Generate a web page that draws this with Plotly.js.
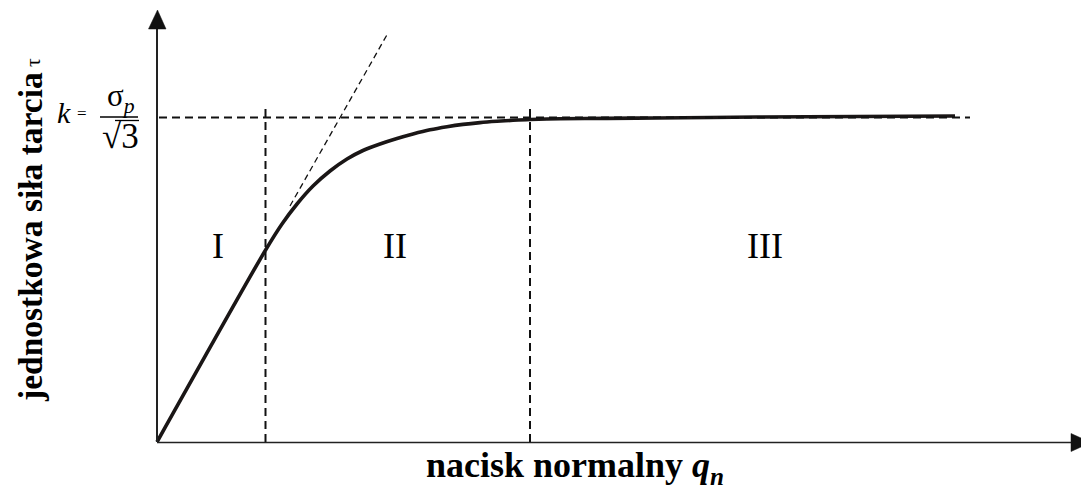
<!DOCTYPE html>
<html>
<head>
<meta charset="utf-8">
<script src="https://cdn.plot.ly/plotly-3.0.1.min.js"></script>
<style>html,body{margin:0;padding:0;background:#fff;}#chart{width:1081px;height:491px;}</style>
</head>
<body>
<div id="chart"></div>
<script>
// Curve: unit friction stress vs normal pressure
var curveX = [0, 108, 125, 140, 156, 173, 190, 206, 223, 240, 256, 273, 290, 306, 323, 340, 356, 373, 403, 450, 500, 600, 700, 798];
var curveY = [0, 191, 218, 238, 256, 271, 283, 291.5, 298, 303.5, 308, 312.2, 315.3, 317.6, 319.4, 320.7, 321.7, 322.5, 323.2, 323.6, 324, 325, 325.5, 326];
// k level (sigma_p / sqrt(3)) and its dashed guide
var kLevel = 324.5;
var kLineX = [2, 813];
// zone boundaries I | II | III
var boundaryX = [108.5, 373];
var boundaryTop = 337;
// tangent to linear part
var tangentX = [133, 231];
var tangentY = [236, 409];
// zone labels
var zoneLabels = ['I', 'II', 'III'];
var zoneX = [61, 237.5, 608];
var zoneY = 196;

var axisCol = '#222';
var traces = [
  {x: curveX, y: curveY, mode: 'lines', line: {color: '#1a1616', width: 3.6, shape: 'spline', smoothing: 0.8}, hoverinfo: 'skip'},
  {x: kLineX, y: [kLevel, kLevel], mode: 'lines', line: {color: '#111', width: 2, dash: '8px,5px'}, hoverinfo: 'skip'},
  {x: [boundaryX[0], boundaryX[0], null, boundaryX[1], boundaryX[1]], y: [0, boundaryTop, null, 0, boundaryTop], mode: 'lines', line: {color: '#111', width: 2, dash: '8px,5px'}, hoverinfo: 'skip'},
  {x: tangentX, y: tangentY, mode: 'lines', line: {color: '#111', width: 1.3, dash: '6px,4px'}, hoverinfo: 'skip'}
];

var ann = zoneLabels.map(function (t, i) {
  return {x: zoneX[i], y: zoneY, xref: 'x', yref: 'y', text: t, showarrow: false,
    font: {family: 'Liberation Serif', size: 36, color: '#000'}, xanchor: 'center', yanchor: 'middle'};
});
ann.push({x: -127, y: 205, xref: 'x', yref: 'y', text: '<b>jednostkowa siła tarcia</b>', textangle: -90, showarrow: false,
  font: {family: 'Liberation Serif', size: 33.5, color: '#000'}, xanchor: 'center', yanchor: 'middle'});
ann.push({x: -125, y: 379, xref: 'x', yref: 'y', text: 'τ', textangle: -90, showarrow: false,
  font: {family: 'Liberation Serif', size: 22, color: '#000'}, xanchor: 'center', yanchor: 'middle'});
ann.push({x: 418, y: -25, xref: 'x', yref: 'y', text: '<b>nacisk normalny <i>q</i><sub><i>n</i></sub></b>', showarrow: false,
  font: {family: 'Liberation Serif', size: 36, color: '#000'}, xanchor: 'center', yanchor: 'middle'});
ann.push({x: -93.5, y: 330, xref: 'x', yref: 'y', text: '<i>k</i>', showarrow: false,
  font: {family: 'Liberation Serif', size: 30, color: '#000'}, xanchor: 'center', yanchor: 'middle'});
ann.push({x: -75, y: 329, xref: 'x', yref: 'y', text: '=', showarrow: false,
  font: {family: 'Liberation Serif', size: 17, color: '#000'}, xanchor: 'center', yanchor: 'middle'});
ann.push({x: -36, y: 344, xref: 'x', yref: 'y', text: 'σ<sub><i>p</i></sub>', showarrow: false,
  font: {family: 'Liberation Serif', size: 31, color: '#000'}, xanchor: 'center', yanchor: 'middle'});
ann.push({x: -37, y: 306, xref: 'x', yref: 'y', text: '√3', showarrow: false,
  font: {family: 'Liberation Serif', size: 35, color: '#000'}, xanchor: 'center', yanchor: 'middle'});

var shapes = [
  {type: 'line', xref: 'x', yref: 'y', x0: 0, y0: -0.5, x1: 914, y1: -0.5, line: {color: axisCol, width: 1.6}},
  {type: 'line', xref: 'x', yref: 'y', x0: 0, y0: 0, x1: 0, y1: 414, line: {color: axisCol, width: 2}},
  {type: 'path', xref: 'x', yref: 'y', path: 'M -8.5 413 L 9 413 L 0.5 432 Z', fillcolor: '#111', line: {color: '#111', width: 0.5}},
  {type: 'path', xref: 'x', yref: 'y', path: 'M 914 8.5 L 914 -9.5 L 934 -0.5 Z', fillcolor: '#111', line: {color: '#111', width: 0.5}},
  {type: 'line', xref: 'x', yref: 'y', x0: -57, y0: 325, x1: -19, y1: 325, line: {color: '#000', width: 1.3}},
  {type: 'line', xref: 'x', yref: 'y', x0: -42, y0: 321.5, x1: -18, y1: 321.5, line: {color: '#000', width: 1.3}}
];

var layout = {
  width: 1081, height: 491,
  margin: {l: 0, r: 0, t: 0, b: 0, pad: 0},
  paper_bgcolor: '#fff', plot_bgcolor: '#fff',
  showlegend: false,
  xaxis: {range: [-157, 924], visible: false, fixedrange: true},
  yaxis: {range: [-49, 442], visible: false, fixedrange: true},
  annotations: ann,
  shapes: shapes
};
Plotly.newPlot('chart', traces, layout, {staticPlot: true, displayModeBar: false});
</script>
</body>
</html>
